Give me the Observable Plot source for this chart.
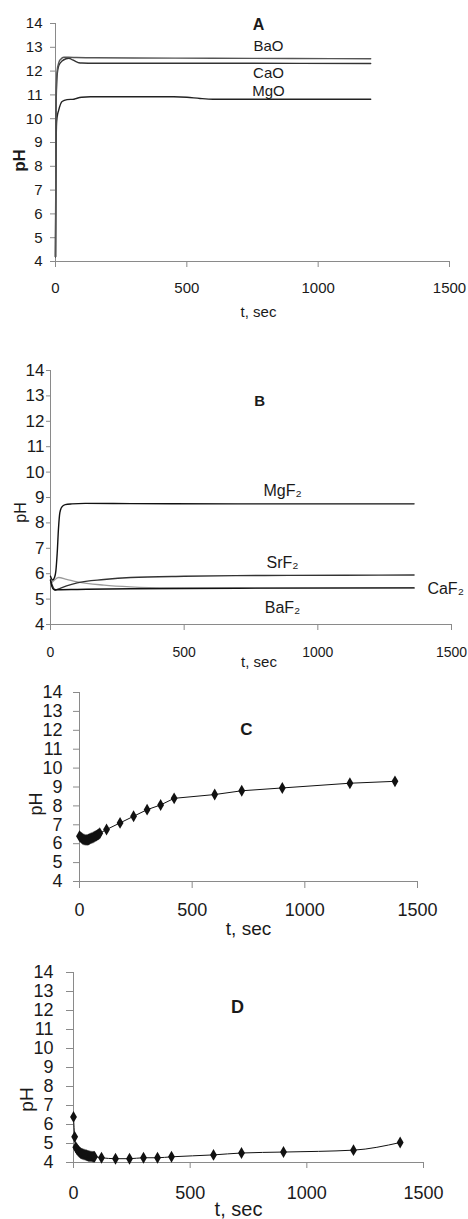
<!DOCTYPE html>
<html><head><meta charset="utf-8">
<script src="https://cdn.jsdelivr.net/npm/d3@7"></script>
<script src="https://cdn.jsdelivr.net/npm/@observablehq/plot@0.6"></script>
<style>
body{margin:0;background:#fff;}
#root{position:relative;width:468px;height:1219px;overflow:hidden;font-family:"Liberation Sans",Arial,sans-serif;}
#root > svg{position:absolute;left:0;}
</style></head><body><div id="root"></div>
<script>
// ---- shared ticks ----
const xTicks = [0, 500, 1000, 1500];
const yTicks = [4, 5, 6, 7, 8, 9, 10, 11, 12, 13, 14];

// ---- Panel A ----
const baoT  = [0, 2, 6, 13, 20, 32, 50, 80, 150, 300, 600, 900, 1200];
const baoPH = [4.2, 10.6, 12.0, 12.37, 12.5, 12.58, 12.58, 12.57, 12.56, 12.55, 12.54, 12.53, 12.52];
const caoT  = [0, 2, 6, 13, 25, 40, 51, 65, 80, 89, 100, 150, 300, 600, 1200];
const caoPH = [4.2, 10.3, 11.8, 12.25, 12.42, 12.52, 12.54, 12.47, 12.39, 12.35, 12.34, 12.33, 12.33, 12.33, 12.32];
const mgoT  = [0, 2, 4, 6, 12, 25, 44, 70, 82, 100, 133, 300, 450, 500, 550, 600, 900, 1200];
const mgoPH = [4.2, 8.5, 9.8, 10.05, 10.35, 10.72, 10.8, 10.82, 10.86, 10.9, 10.92, 10.92, 10.92, 10.9, 10.85, 10.82, 10.82, 10.82];
const aLabels = ["BaO", "CaO", "MgO"];
const aLabelT = [811, 811, 811];
const aLabelPH = [13.03, 11.9, 11.14];

// ---- Panel B ----
const mgf2T  = [0, 8, 15, 20, 25, 30, 35, 42, 55, 80, 130, 300, 700, 1360];
const mgf2PH = [5.9, 5.75, 5.85, 6.1, 6.8, 7.8, 8.4, 8.62, 8.72, 8.75, 8.77, 8.76, 8.75, 8.75];
const srf2T  = [0, 8, 18, 30, 60, 100, 200, 300, 500, 800, 1100, 1360];
const srf2PH = [5.75, 5.5, 5.35, 5.4, 5.52, 5.64, 5.77, 5.85, 5.9, 5.93, 5.94, 5.95];
const caf2T  = [0, 10, 30, 60, 100, 200, 300, 450, 700, 1360];
const caf2PH = [5.6, 5.7, 5.85, 5.78, 5.68, 5.55, 5.48, 5.44, 5.43, 5.44];
const baf2T  = [0, 5, 12, 30, 100, 300, 700, 1360];
const baf2PH = [5.75, 5.5, 5.38, 5.37, 5.38, 5.41, 5.43, 5.44];
const bLabels = ["MgF₂", "SrF₂", "CaF₂", "BaF₂"];
const bLabelT = [868, 868, 1478, 868];
const bLabelPH = [9.28, 6.44, 5.42, 4.67];

// ---- Panel C ----
const cT  = [0,5,10,15,20,25,30,35,40,45,50,55,60,65,70,75,80,85,90,120,180,240,300,360,420,600,720,900,1200,1400];
const cPH = [6.4,6.35,6.3,6.25,6.22,6.2,6.2,6.2,6.22,6.25,6.28,6.3,6.33,6.37,6.4,6.43,6.47,6.5,6.55,6.75,7.1,7.45,7.8,8.05,8.4,8.6,8.8,8.95,9.2,9.3];

// ---- Panel D ----
const dT  = [0,5,10,15,20,25,30,35,40,45,50,55,60,65,70,75,80,85,90,120,180,240,300,360,420,600,720,900,1200,1400];
const dPH = [6.4,5.35,4.8,4.7,4.62,4.55,4.5,4.47,4.45,4.42,4.4,4.38,4.36,4.34,4.33,4.32,4.31,4.3,4.3,4.25,4.2,4.2,4.25,4.25,4.3,4.4,4.5,4.55,4.65,5.05];

const panelTitles = ["A", "B", "C", "D"];
const titleT = [773, 782, 741, 703];
const titlePH = [13.96, 12.78, 12.04, 12.15];

const rows = (ts, ps) => ts.map((t, i) => ({t, pH: ps[i]}));
const FONT = "Liberation Sans, Arial, sans-serif";
const fmt = d => String(d);

function frameMarks(o) {
  return [
    Plot.axisX({ticks: xTicks, tickFormat: fmt, tickSize: o.xts, tickPadding: o.xtp, stroke: "#8a8a8a", color: "#1a1a1a", label: null}),
    Plot.axisY({ticks: yTicks, tickFormat: fmt, tickSize: o.yts, tickPadding: o.ytp, stroke: "#8a8a8a", color: "#1a1a1a", label: null}),
    Plot.ruleY([4], {stroke: "#8a8a8a"}),
    Plot.ruleX([0], {stroke: "#8a8a8a"}),
    Plot.text(["t, sec"], {text: d => d, frameAnchor: "bottom", lineAnchor: "middle", textAnchor: "middle", dx: o.tdx, dy: o.tdy, fontSize: o.tfs, fill: "#1a1a1a"}),
    Plot.text(["pH"], {text: d => d, frameAnchor: "left", lineAnchor: "middle", textAnchor: "middle", rotate: -90, dx: o.pdx, dy: o.pdy, fontSize: o.pfs, fontWeight: o.pbold ? "bold" : "normal", fill: "#1a1a1a"}),
    Plot.text([0], {x: () => titleT[o.idx], y: () => titlePH[o.idx], text: () => panelTitles[o.idx], fontWeight: "bold", fontSize: o.titlefs, fill: "#1a1a1a"})
  ];
}

const root = document.getElementById("root");
function place(svg, top, xfs, yfs) {
  svg.style.top = top + "px";
  svg.querySelectorAll('g[aria-label="x-axis tick label"] text').forEach(t => t.setAttribute("font-size", xfs));
  svg.querySelectorAll('g[aria-label="y-axis tick label"] text').forEach(t => t.setAttribute("font-size", yfs));
  root.appendChild(svg);
}

// Panel A
place(Plot.plot({
  width: 468, height: 320, marginTop: 23, marginBottom: 59, marginLeft: 55, marginRight: 19,
  style: {fontFamily: FONT, fontSize: "15px", background: "transparent"},
  x: {domain: [0, 1500]}, y: {domain: [4, 14]},
  marks: [
    ...frameMarks({idx: 0, xts: 6, xtp: 15, yts: 5, ytp: 8, tdx: 6, tdy: 51, tfs: 15, pdx: -36, pdy: 18, pfs: 17, pbold: true, titlefs: 16}),
    Plot.line(rows(mgoT, mgoPH), {x: "t", y: "pH", stroke: "#222", strokeWidth: 1.4, curve: "monotone-x"}),
    Plot.line(rows(caoT, caoPH), {x: "t", y: "pH", stroke: "#333", strokeWidth: 1.4, curve: "monotone-x"}),
    Plot.line(rows(baoT, baoPH), {x: "t", y: "pH", stroke: "#555", strokeWidth: 1.4, curve: "monotone-x"}),
    Plot.text(aLabels, {x: (d, i) => aLabelT[i], y: (d, i) => aLabelPH[i], text: d => d, fontSize: 15, fill: "#1a1a1a"})
  ]
}), 0, 15, 15);

// Panel B
place(Plot.plot({
  width: 468, height: 344, marginTop: 40, marginBottom: 50, marginLeft: 50, marginRight: 17,
  style: {fontFamily: FONT, fontSize: "15px", background: "transparent"},
  x: {domain: [0, 1500]}, y: {domain: [4, 14]},
  marks: [
    ...frameMarks({idx: 1, xts: 6, xtp: 17, yts: 4, ytp: 2, tdx: 8, tdy: 38, tfs: 15, pdx: -30, pdy: 15, pfs: 16, pbold: false, titlefs: 15}),
    Plot.line(rows(caf2T, caf2PH), {x: "t", y: "pH", stroke: "#9a9a9a", strokeWidth: 1.3, curve: "monotone-x"}),
    Plot.line(rows(srf2T, srf2PH), {x: "t", y: "pH", stroke: "#333", strokeWidth: 1.4, curve: "monotone-x"}),
    Plot.line(rows(baf2T, baf2PH), {x: "t", y: "pH", stroke: "#111", strokeWidth: 1.4, curve: "monotone-x"}),
    Plot.line(rows(mgf2T, mgf2PH), {x: "t", y: "pH", stroke: "#111", strokeWidth: 1.4, curve: "monotone-x"}),
    Plot.text(bLabels, {x: (d, i) => bLabelT[i], y: (d, i) => bLabelPH[i], text: d => d, fontSize: 16, fill: "#1a1a1a"})
  ]
}), 330, 14, 17);

// Panel C
place(Plot.plot({
  width: 468, height: 266, marginTop: 18, marginBottom: 59, marginLeft: 79, marginRight: 51,
  style: {fontFamily: FONT, fontSize: "18px", background: "transparent"},
  x: {domain: [0, 1500]}, y: {domain: [4, 14]},
  marks: [
    ...frameMarks({idx: 2, xts: 7, xtp: 15, yts: 6, ytp: 11, tdx: 0, tdy: 47, tfs: 19, pdx: -43, pdy: 17, pfs: 18, pbold: false, titlefs: 17}),
    Plot.line(rows(cT, cPH), {x: "t", y: "pH", stroke: "#111", strokeWidth: 1}),
    Plot.dot(rows(cT, cPH), {x: "t", y: "pH", symbol: "diamond", r: 3.6, fill: "#111", stroke: "none"})
  ]
}), 674, 18, 18);

// Panel D
place(Plot.plot({
  width: 468, height: 279, marginTop: 32, marginBottom: 57, marginLeft: 73, marginRight: 45,
  style: {fontFamily: FONT, fontSize: "18px", background: "transparent"},
  x: {domain: [0, 1500]}, y: {domain: [4, 14]},
  marks: [
    ...frameMarks({idx: 3, xts: 6, xtp: 18, yts: 7, ytp: 13, tdx: -10, tdy: 47, tfs: 20, pdx: -47, pdy: 32, pfs: 19, pbold: false, titlefs: 18}),
    Plot.line(rows(dT, dPH), {x: "t", y: "pH", stroke: "#111", strokeWidth: 1, curve: "monotone-x"}),
    Plot.dot(rows(dT, dPH), {x: "t", y: "pH", symbol: "diamond", r: 3.6, fill: "#111", stroke: "none"})
  ]
}), 940, 18, 18);
</script></body></html>
